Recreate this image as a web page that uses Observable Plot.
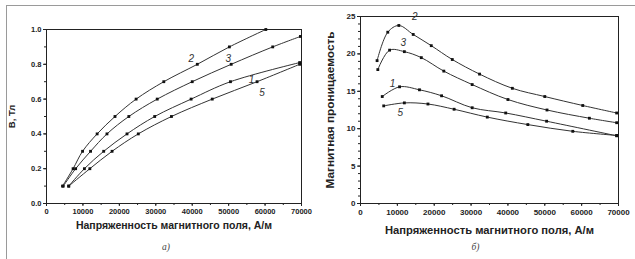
<!DOCTYPE html>
<html><head><meta charset="utf-8">
<script src="https://cdn.jsdelivr.net/npm/d3@7"></script>
<script src="https://cdn.jsdelivr.net/npm/@observablehq/plot@0.6"></script>
<style>
html,body{margin:0;padding:0;background:#fff;}
#wrap{position:relative;width:635px;height:259px;overflow:hidden;background:#fff;font-family:"Liberation Sans",Arial,sans-serif;}
#wrap svg{position:absolute;top:0;}
.ft{position:absolute;left:6px;top:5px;width:629px;height:0;border-top:1.5px solid #9a9a9a;}
.fl{position:absolute;left:6px;top:5px;width:0;height:254px;border-left:1.5px solid #9a9a9a;}
</style></head><body><div id="wrap"><div class="ft"></div><div class="fl"></div></div>
<script>
// ---- data ----
const curveNames = ["1", "2", "3", "5"];

// panel a) B(H)
const aH1 = [6100, 10400, 15700, 22100, 29700, 39700, 50500, 69500];
const aB1 = [0.1, 0.2, 0.3, 0.4, 0.5, 0.6, 0.7, 0.81];
const aH2 = [4400, 7300, 9900, 13900, 18800, 24600, 32200, 41400, 50200, 60200];
const aB2 = [0.1, 0.2, 0.3, 0.4, 0.5, 0.6, 0.7, 0.8, 0.9, 1.0];
const aH3 = [4600, 8000, 12100, 16600, 22600, 30400, 40000, 50700, 62100, 69700];
const aB3 = [0.1, 0.2, 0.3, 0.4, 0.5, 0.6, 0.7, 0.8, 0.9, 0.96];
const aH5 = [6100, 11900, 18000, 25200, 34300, 45500, 57800, 69500];
const aB5 = [0.1, 0.2, 0.3, 0.4, 0.5, 0.6, 0.7, 0.8];

// panel б) mu(H)
const bH1 = [5900, 10600, 16000, 22000, 30300, 39400, 50500, 69500];
const bM1 = [14.3, 15.6, 15.2, 14.4, 12.8, 12.1, 11.0, 9.05];
const bH2 = [4500, 7400, 10400, 14300, 19200, 24900, 32300, 41200, 50000, 60300, 69500];
const bM2 = [19.1, 22.9, 23.8, 22.6, 21.1, 19.25, 17.3, 15.4, 14.3, 13.1, 12.1];
const bH3 = [4700, 7900, 11900, 16500, 22600, 30300, 40000, 50600, 62100, 69500];
const bM3 = [17.9, 20.5, 20.3, 19.5, 17.7, 15.9, 13.9, 12.5, 11.4, 10.8];
const bH5 = [6300, 11900, 18300, 25400, 34400, 45400, 57600, 69500];
const bM5 = [13.05, 13.45, 13.3, 12.6, 11.55, 10.55, 9.65, 9.1];

// ticks & texts
const hTicks = [0, 10000, 20000, 30000, 40000, 50000, 60000, 70000];
const bTicks = [0, 0.2, 0.4, 0.6, 0.8, 1.0];
const muTicks = [0, 5, 10, 15, 20, 25];
const xTitle = "Напряженность магнитного поля, А/м";
const yTitleA = "B, Тл";
const yTitleB = "Магнитная проницаемость";
const captionA = "а)";
const captionB = "б)";

// ---- build ----
function rows(names, hs, vs) {
  const out = [];
  names.forEach((n, i) => hs[i].forEach((h, j) => out.push({curve: n, h, v: vs[i][j], idx: j})));
  return out;
}
const dataA = rows(curveNames, [aH1, aH2, aH3, aH5], [aB1, aB2, aB3, aB5]);
const dataB = rows(curveNames, [bH1, bH2, bH3, bH5], [bM1, bM2, bM3, bM5]);

// label anchors: curve, point index, pixel offsets
const labA = [{curve: "2", idx: 7, dx: -6, dy: -6}, {curve: "3", idx: 7, dx: -3, dy: -6},
              {curve: "1", idx: 6, dx: 21, dy: -2}, {curve: "5", idx: 6, dx: 5, dy: 11}];
const labB = [{curve: "2", idx: 2, dx: 16, dy: -9}, {curve: "3", idx: 2, dx: -1, dy: -9},
              {curve: "1", idx: 1, dx: -7, dy: -3}, {curve: "5", idx: 1, dx: -4, dy: 10}];

const font = "'Liberation Sans', Arial, sans-serif";

function panel({data, labs, width, ml, mr, mt, mb, yDomain, yTicks, yMinor, yFmt, yTitle, yOff, xOff, caption, capDx, tickFs, titleFs, yTitleFs}) {
  const labMarks = labs.map(l => {
    const p = data.filter(d => d.curve === l.curve && d.idx === l.idx);
    return Plot.text(p, {x: "h", y: "v", text: "curve", dx: l.dx, dy: l.dy, fontStyle: "italic", fontSize: 10, fill: "#333"});
  });
  return Plot.plot({
    width, height: 259, marginLeft: ml, marginRight: mr, marginTop: mt, marginBottom: mb,
    style: {fontFamily: font, fontSize: tickFs + "px", color: "#222", background: "transparent", overflow: "visible"},
    x: {domain: [0, 70000]},
    y: {domain: yDomain},
    marks: [
      Plot.axisX({ticks: d3.range(0, 70001, 5000), tickSize: 2, tickFormat: () => "", label: null, stroke: "#222"}),
      Plot.axisX({ticks: hTicks, tickSize: 3, tickPadding: 2.5, tickFormat: d => String(d), label: null, fontWeight: "bold", stroke: "#222"}),
      Plot.axisY({ticks: yMinor, tickSize: 2, tickFormat: () => "", label: null, stroke: "#222"}),
      Plot.axisY({ticks: yTicks, tickSize: 3, tickPadding: 2, tickFormat: yFmt, label: null, fontWeight: "bold", stroke: "#222"}),
      Plot.frame({stroke: "#222", strokeWidth: 1}),
      Plot.line(data, {x: "h", y: "v", z: "curve", curve: "catmull-rom", stroke: "#333", strokeWidth: 1}),
      Plot.dot(data, {x: "h", y: "v", symbol: "square", r: 1.6, fill: "#111", stroke: "none"}),
      ...labMarks,
      Plot.text([xTitle], {frameAnchor: "bottom", textAnchor: "middle", dy: xOff, fontWeight: "bold", fontSize: titleFs, fill: "#222"}),
      Plot.text([yTitle], {frameAnchor: "left", textAnchor: "middle", dx: -yOff, rotate: -90, fontWeight: "bold", fontSize: yTitleFs, fill: "#222"}),
      Plot.text([caption], {frameAnchor: "bottom", textAnchor: "middle", dy: 46, dx: capDx, fontStyle: "italic", fontSize: 9.5, fontFamily: "'Liberation Serif', serif", fill: "#444"})
    ]
  });
}

const wrap = document.getElementById("wrap");
const pa = panel({data: dataA, labs: labA, width: 315, ml: 46, mr: 14, mt: 29, mb: 56,
  yDomain: [0, 1], yTicks: bTicks, yMinor: d3.range(0, 1.01, 0.1), yFmt: d => d.toFixed(1),
  yTitle: yTitleA, yOff: 35, xOff: 25, caption: captionA, capDx: -8, tickFs: 7.5, titleFs: 10.5, yTitleFs: 9.5});
pa.style.left = "0px";
wrap.appendChild(pa);
const pb = panel({data: dataB, labs: labB, width: 320, ml: 45, mr: 17, mt: 16, mb: 56,
  yDomain: [0, 25], yTicks: muTicks, yMinor: d3.range(0, 26, 1), yFmt: d => String(d),
  yTitle: yTitleB, yOff: 30, xOff: 30, caption: captionB, capDx: -14, tickFs: 8, titleFs: 11.2, yTitleFs: 11.8});
pb.style.left = "315px";
wrap.appendChild(pb);
</script></body></html>
